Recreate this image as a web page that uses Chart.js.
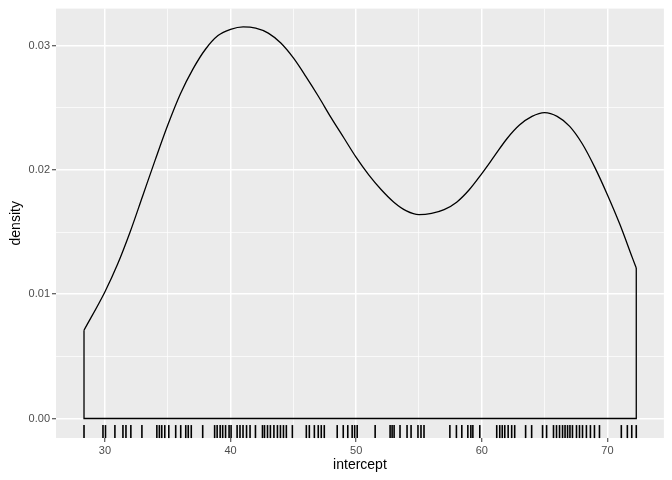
<!DOCTYPE html>
<html>
<head>
<meta charset="utf-8">
<script src="https://cdn.jsdelivr.net/npm/chart.js@4.4.1/dist/chart.umd.min.js"></script>
<style>
  html, body { margin: 0; padding: 0; background: #ffffff; }
  #wrap { width: 672px; height: 480px; }
</style>
</head>
<body>
<div id="wrap"><canvas id="densityChart" width="672" height="480"></canvas></div>
<script>
// kurva density
const densX = [28.33, 30, 31, 32, 33, 34, 35, 36, 37, 38, 39, 40, 41, 42, 43, 44, 45, 46, 47, 48, 49, 50,
  51, 52, 53, 54, 55, 56, 57, 58, 59, 60, 61, 62, 63, 64, 65, 66, 67, 68, 69, 70, 71, 72, 72.3];
const densY = [0.0071, 0.0102, 0.0124, 0.0150, 0.0179, 0.0208, 0.0236, 0.0261, 0.0281, 0.0297, 0.0308,
  0.0313, 0.0315, 0.0314, 0.0310, 0.0302, 0.0290, 0.0275, 0.0259, 0.0242, 0.0226, 0.0210,
  0.0196, 0.0184, 0.0174, 0.0167, 0.0164, 0.0165, 0.0168, 0.0174, 0.0184, 0.0197, 0.0211, 0.0225,
  0.0236, 0.0243, 0.0246, 0.0243, 0.0235, 0.0221, 0.0202, 0.0180, 0.0156, 0.0129, 0.0121];

// nilai rug (intercept)
const rugValues = [28.33, 29.84, 30.04, 30.79, 31.43, 31.67, 32.06, 32.94, 34.13, 34.33, 34.52, 34.76, 35.08,
  35.63, 36.03, 36.43, 36.63, 36.87, 37.78, 38.73, 38.93, 39.17, 39.37, 39.60, 39.88, 40.04, 40.52, 40.75,
  40.99, 41.27, 41.55, 41.98, 42.54, 42.70, 42.94, 43.17, 43.45, 43.73, 43.97, 44.21, 44.44, 44.92,
  46.03, 46.27, 46.67, 46.98, 47.22, 47.46, 48.49, 48.97, 49.33, 49.68, 49.88, 50.08,
  51.51, 52.70, 52.86, 53.02, 53.49, 54.05, 54.37, 54.92, 55.16, 55.40,
  57.46, 57.98, 58.41, 58.89, 59.13, 59.29, 59.84, 61.19, 61.43, 61.63, 61.83, 62.10, 62.38, 62.62,
  63.49, 63.97, 64.84, 65.16, 65.71, 65.95, 66.19, 66.43, 66.63, 66.83, 67.02, 67.22, 67.54, 67.78,
  68.02, 68.33, 68.65, 68.97, 69.37, 71.11, 71.59, 71.94, 72.30];

// tick
const xMajor = [30, 40, 50, 60, 70];
const xMinor = [35, 45, 55, 65];
const yMajor = [0, 0.01, 0.02, 0.03];
const yMinor = [0.005, 0.015, 0.025];

const xMin = 26.1, xMax = 74.5;
const yMin = -0.00157, yMax = 0.03297;

const FONT = "'Liberation Sans', Arial, Helvetica, sans-serif";

// kurva + garis tepi (vertikal kiri/kanan dan baseline)
const curvePts = densX.map((x, i) => ({ x: x, y: densY[i] }));
const last = densX.length - 1;
const edgePts = [
  { x: densX[0], y: densY[0] },
  { x: densX[0], y: 0 },
  { x: densX[last], y: 0 },
  { x: densX[last], y: densY[last] }
];
// rug: 3% tinggi panel dari bawah
const rugY = yMin + (yMax - yMin) * 0.015;
const rugPts = rugValues.map(v => ({ x: v, y: rugY }));

function isMajor(list, v) {
  return list.some(m => Math.abs(m - v) < 1e-9);
}

const panelBg = {
  id: 'panelBg',
  beforeDraw(chart) {
    const a = chart.chartArea;
    const c = chart.ctx;
    c.save();
    c.fillStyle = '#EBEBEB';
    c.fillRect(a.left, a.top, a.right - a.left, a.bottom - a.top);
    c.restore();
  }
};

const ctx = document.getElementById('densityChart');
new Chart(ctx, {
  type: 'line',
  data: {
    datasets: [
      {
        data: curvePts,
        borderColor: '#000000',
        borderWidth: 1.3,
        pointRadius: 0,
        fill: false,
        cubicInterpolationMode: 'monotone'
      },
      {
        data: edgePts,
        borderColor: '#000000',
        borderWidth: 1.3,
        pointRadius: 0,
        fill: false,
        tension: 0
      },
      {
        type: 'scatter',
        data: rugPts,
        pointStyle: 'line',
        rotation: 90,
        radius: 6.5,
        borderColor: '#000000',
        borderWidth: 1.6,
        clip: false
      }
    ]
  },
  options: {
    responsive: false,
    animation: false,
    devicePixelRatio: 1,
    layout: { padding: { top: 6, right: 6, bottom: 0, left: 0 } },
    plugins: {
      legend: { display: false },
      tooltip: { enabled: false }
    },
    scales: {
      x: {
        type: 'linear',
        min: xMin,
        max: xMax,
        afterBuildTicks(scale) {
          scale.ticks = xMajor.concat(xMinor).sort((a, b) => a - b).map(v => ({ value: v }));
        },
        afterFit(scale) { scale.height = 42; },
        border: { display: false },
        grid: {
          color: '#FFFFFF',
          lineWidth: c => isMajor(xMajor, c.tick.value) ? 1.5 : 0.7,
          tickColor: c => isMajor(xMajor, c.tick.value) ? '#333333' : 'rgba(0,0,0,0)',
          tickLength: 4,
          tickWidth: 1
        },
        ticks: {
          autoSkip: false,
          maxRotation: 0,
          padding: 2,
          color: '#4D4D4D',
          font: { family: FONT, size: 11 },
          callback: v => isMajor(xMajor, v) ? String(v) : ''
        },
        title: {
          display: true,
          text: 'intercept',
          color: '#000000',
          font: { family: FONT, size: 14 },
          padding: { top: 0, bottom: 6 }
        }
      },
      y: {
        type: 'linear',
        min: yMin,
        max: yMax,
        afterBuildTicks(scale) {
          scale.ticks = yMajor.concat(yMinor).sort((a, b) => a - b).map(v => ({ value: v }));
        },
        afterFit(scale) { scale.width = 56; },
        border: { display: false },
        grid: {
          color: '#FFFFFF',
          lineWidth: c => isMajor(yMajor, c.tick.value) ? 1.5 : 0.7,
          tickColor: c => isMajor(yMajor, c.tick.value) ? '#333333' : 'rgba(0,0,0,0)',
          tickLength: 4,
          tickWidth: 1
        },
        ticks: {
          autoSkip: false,
          padding: 2,
          color: '#4D4D4D',
          font: { family: FONT, size: 11 },
          callback: v => isMajor(yMajor, v) ? v.toFixed(2) : ''
        },
        title: {
          display: true,
          text: 'density',
          color: '#000000',
          font: { family: FONT, size: 14 },
          padding: { top: 8, bottom: 0 }
        }
      }
    }
  },
  plugins: [panelBg]
});
</script>
</body>
</html>
